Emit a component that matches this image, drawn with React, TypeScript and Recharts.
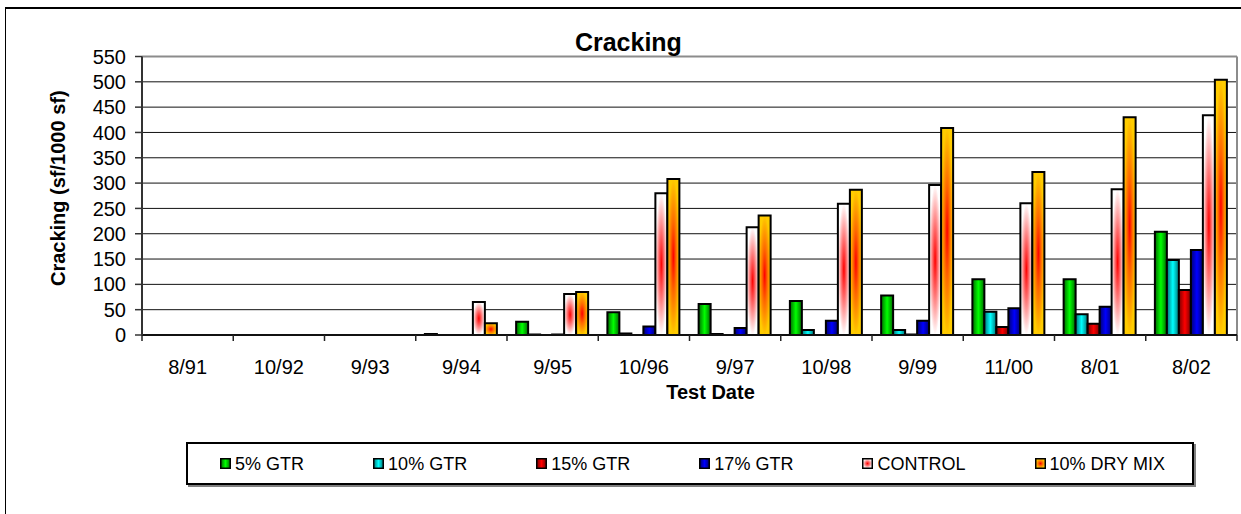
import React from 'react';
import { BarChart, Bar, XAxis, YAxis, CartesianGrid, Legend, Label } from 'recharts';

const categories = ['8/91', '10/92', '9/93', '9/94', '9/95', '10/96', '9/97', '10/98', '9/99', '11/00', '8/01', '8/02'];
const gtr5 = [0, 0, 0, 2, 26, 45, 61, 67, 78, 110, 110, 204];
const gtr10 = [0, 0, 0, 0, 1, 3, 2, 10, 10, 46, 41, 148];
const gtr15 = [0, 0, 0, 0, 0, 0, 0, 0, 1, 16, 22, 89];
const gtr17 = [0, 0, 0, 0, 1, 17, 14, 28, 28, 53, 56, 168];
const control = [0, 0, 0, 65, 81, 280, 213, 259, 296, 260, 288, 434];
const dryMix = [0, 0, 0, 23, 85, 308, 236, 287, 409, 322, 430, 504];
const yTicks = [0, 50, 100, 150, 200, 250, 300, 350, 400, 450, 500, 550];

const seriesKeys = ['gtr5', 'gtr10', 'gtr15', 'gtr17', 'control', 'dryMix'];
const seriesNames = ['5% GTR', '10% GTR', '15% GTR', '17% GTR', 'CONTROL', '10% DRY MIX'];
const seriesFills = ['gGreen', 'gCyan', 'gRed', 'gBlue', 'gControl', 'gDry'];

const data = categories.map((c, i) => ({
  date: c,
  gtr5: gtr5[i],
  gtr10: gtr10[i],
  gtr15: gtr15[i],
  gtr17: gtr17[i],
  control: control[i],
  dryMix: dryMix[i],
}));

const FONT = '"Liberation Sans", Arial, sans-serif';

const XTick = (props: any) => {
  const { x, y, payload, index, visibleTicksCount, width } = props;
  const half = payload && typeof payload.offset === 'number' && payload.offset > 0
    ? payload.offset
    : width / (visibleTicksCount || 12) / 2;
  const isLast = index === (visibleTicksCount || categories.length) - 1;
  return (
    <g>
      <line x1={x - half} x2={x - half} y1={y} y2={y + 6} stroke="#222" strokeWidth={1.5} />
      {isLast && <line x1={x + half} x2={x + half} y1={y} y2={y + 6} stroke="#222" strokeWidth={1.5} />}
      <text x={x} y={y + 38.5} textAnchor="middle" fontSize={20} fontFamily={FONT} fill="#000">
        {payload.value}
      </text>
    </g>
  );
};

const YTitle = (props: any) => {
  const vb = props.viewBox || { x: 0, y: 0, width: 0, height: 0 };
  const cx = vb.x + 64.5;
  const cy = vb.y + vb.height / 2 - 7.5;
  return (
    <text x={cx} y={cy} transform={`rotate(-90, ${cx}, ${cy})`} textAnchor="middle" fontSize={20} fontWeight="bold" fontFamily={FONT} fill="#000">
      Cracking (sf/1000 sf)
    </text>
  );
};

const XTitle = (props: any) => {
  const vb = props.viewBox || { x: 0, y: 0, width: 0, height: 0 };
  const cx = vb.x + vb.width / 2 + 21;
  const cy = vb.y + 64;
  return (
    <text x={cx} y={cy} textAnchor="middle" fontSize={20} fontWeight="bold" fontFamily={FONT} fill="#000">
      Test Date
    </text>
  );
};

const LegendBox = () => (
  <div
    style={{
      boxSizing: 'border-box',
      width: 1008,
      height: 43,
      border: '2px solid #000',
      boxShadow: '2px 2px 0 #808080',
      background: '#fff',
      display: 'flex',
      alignItems: 'center',
      justifyContent: 'space-between',
      padding: '0 27px 0 32px',
      fontFamily: FONT,
      fontSize: 18,
      color: '#000',
    }}
  >
    {seriesNames.map((n, i) => (
      <div key={n} style={{ display: 'flex', alignItems: 'center' }}>
        <svg width={11} height={11} style={{ display: 'block' }}>
          <rect x={0.75} y={0.75} width={9.5} height={9.5} fill={`url(#${seriesFills[i]})`} stroke="#000" strokeWidth={1.5} />
        </svg>
        <span style={{ marginLeft: 4, lineHeight: '18px' }}>{n}</span>
      </div>
    ))}
  </div>
);

const Defs = () => (
  <svg width={0} height={0} style={{ position: 'absolute', left: 0, top: 0 }}>
    <defs>
      <linearGradient id="gGreen" x1="0" y1="0" x2="1" y2="0">
        <stop offset="0" stopColor="#006a00" />
        <stop offset="0.5" stopColor="#00ff00" />
        <stop offset="1" stopColor="#006a00" />
      </linearGradient>
      <linearGradient id="gCyan" x1="0" y1="0" x2="1" y2="0">
        <stop offset="0" stopColor="#007575" />
        <stop offset="0.5" stopColor="#00ffff" />
        <stop offset="1" stopColor="#007575" />
      </linearGradient>
      <linearGradient id="gRed" x1="0" y1="0" x2="1" y2="0">
        <stop offset="0" stopColor="#7a0000" />
        <stop offset="0.5" stopColor="#ff0000" />
        <stop offset="1" stopColor="#7a0000" />
      </linearGradient>
      <linearGradient id="gBlue" x1="0" y1="0" x2="1" y2="0">
        <stop offset="0" stopColor="#000070" />
        <stop offset="0.5" stopColor="#0000ff" />
        <stop offset="1" stopColor="#000070" />
      </linearGradient>
      <radialGradient id="gControl" cx="0.5" cy="0.5" r="0.5">
        <stop offset="0" stopColor="#ff0000" />
        <stop offset="0.45" stopColor="#ff7070" />
        <stop offset="1" stopColor="#ffffff" />
      </radialGradient>
      <radialGradient id="gDry" cx="0.5" cy="0.5" r="0.5">
        <stop offset="0" stopColor="#ff0000" />
        <stop offset="0.45" stopColor="#ff6a00" />
        <stop offset="1" stopColor="#ffcc00" />
      </radialGradient>
    </defs>
  </svg>
);

export default function App() {
  return (
    <div style={{ position: 'absolute', left: 0, top: 0, width: 1241, height: 514, overflow: 'hidden', background: '#fff' }}>
      <Defs />
      <div
        style={{
          position: 'absolute',
          left: 5,
          top: 7,
          width: 1260,
          height: 530,
          borderTop: '2px solid #000',
          borderLeft: '1px solid #000',
        }}
      />
      <div
        style={{
          position: 'absolute',
          left: 528.4,
          top: 29.5,
          width: 200,
          textAlign: 'center',
          fontFamily: FONT,
          fontWeight: 'bold',
          fontSize: 25,
          lineHeight: '25px',
          color: '#000',
          zIndex: 2,
        }}
      >
        Cracking
      </div>
      <div style={{ position: 'absolute', left: 0, top: 0 }}>
        <BarChart
          width={1241}
          height={514}
          data={data}
          margin={{ top: 56.5, right: 4, bottom: 76, left: 0 }}
          barCategoryGap="10%"
          barGap={0}
        >
          <CartesianGrid vertical={false} stroke="#111" strokeWidth={1} />
          <CartesianGrid
            vertical={false}
            stroke="#8c8c8c"
            strokeWidth={2}
            horizontalCoordinatesGenerator={(p: any) => [p.offset.top]}
          />
          <CartesianGrid
            horizontal={false}
            stroke="#8c8c8c"
            strokeWidth={2}
            verticalCoordinatesGenerator={(p: any) => [p.offset.left + p.offset.width]}
          />
          <XAxis
            dataKey="date"
            interval={0}
            tickLine={false}
            tickSize={0}
            tickMargin={0}
            height={60}
            axisLine={{ stroke: '#111', strokeWidth: 2 }}
            tick={<XTick />}
            label={<Label content={<XTitle />} />}
          />
          <YAxis
            domain={[0, 550]}
            ticks={yTicks}
            interval={0}
            width={142}
            tickSize={7}
            tickMargin={9}
            axisLine={{ stroke: '#333', strokeWidth: 2 }}
            tickLine={{ stroke: '#333', strokeWidth: 1.5 }}
            tick={{ fontSize: 20, fontFamily: FONT, fill: '#000' }}
            label={<Label content={<YTitle />} />}
          />
          <Legend
            content={<LegendBox />}
            wrapperStyle={{ left: 186, top: 442, bottom: 'auto', right: 'auto', width: 1008, height: 43 }}
          />
          {seriesKeys.map((k, i) => (
            <Bar
              key={k}
              dataKey={k}
              name={seriesNames[i]}
              fill={`url(#${seriesFills[i]})`}
              stroke="#000"
              strokeWidth={2}
              isAnimationActive={false}
            />
          ))}
        </BarChart>
      </div>
    </div>
  );
}
